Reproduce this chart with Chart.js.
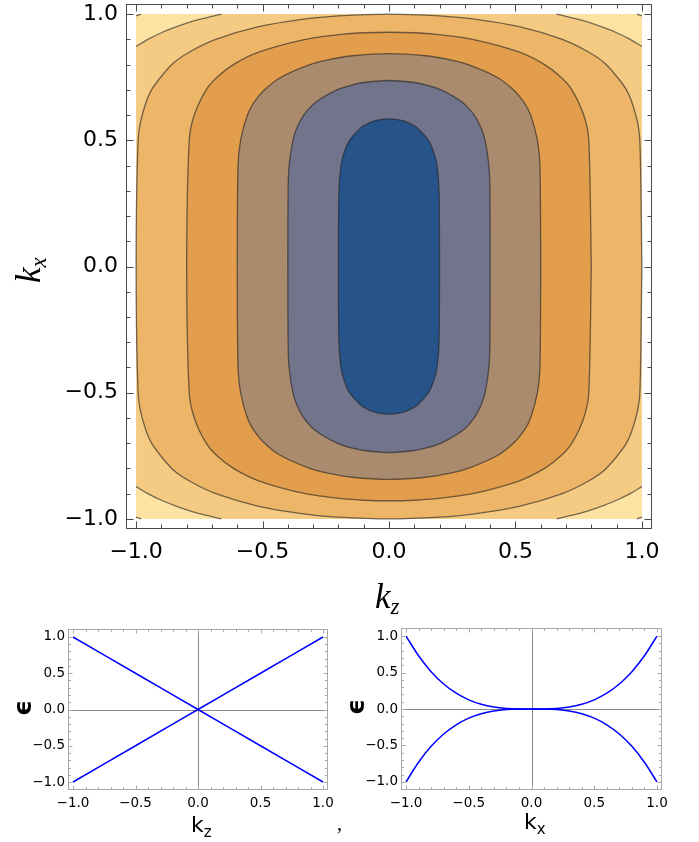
<!DOCTYPE html>
<html>
<head>
<meta charset="utf-8">
<script src="https://cdn.jsdelivr.net/npm/chart.js@4.4.0/dist/chart.umd.min.js"></script>
<style>
  html, body { margin: 0; padding: 0; background: #fff; }
  body { width: 699px; height: 842px; position: relative; overflow: hidden; }
  canvas { position: absolute; }
  #contour { left: 0; top: 0; }
  #bandZ { left: 0; top: 615px; }
  #bandX { left: 335px; top: 615px; }
  #comma { position: absolute; left: 337px; top: 813px; font: 20px "Liberation Serif", serif; line-height: 20px; }
</style>
</head>
<body>
<canvas id="contour" width="699" height="615"></canvas>
<canvas id="bandZ" width="335" height="227"></canvas>
<canvas id="bandX" width="364" height="227"></canvas>
<div id="comma">,</div>
<script>
// contour lines, first quadrant only, as [kz, kx] pairs (the plot is symmetric)
const contour02 = [[0.2, 0], [0.198, 0.3], [0.19, 0.4], [0.178, 0.45], [0.156, 0.5], [0.111, 0.55], [0.076, 0.57], [0.044, 0.58], [0, 0.585]];
const contour04 = [[0.4, 0], [0.399, 0.3], [0.395, 0.4], [0.38, 0.5], [0.364, 0.55], [0.337, 0.6], [0.291, 0.65], [0.206, 0.7], [0.144, 0.72], [0.093, 0.73], [0, 0.737]];
const contour06 = [[0.6, 0], [0.597, 0.4], [0.587, 0.5], [0.56, 0.6], [0.534, 0.65], [0.492, 0.7], [0.427, 0.75], [0.313, 0.8], [0.237, 0.82], [0.145, 0.835], [0, 0.843]];
const contour08 = [[0.8, 0], [0.79, 0.5], [0.77, 0.6], [0.723, 0.7], [0.68, 0.75], [0.615, 0.8], [0.513, 0.85], [0.33, 0.9], [0.183, 0.92], [0.1, 0.926], [0, 0.928]];
const contour10 = [[1, 0], [0.992, 0.5], [0.976, 0.6], [0.939, 0.7], [0.859, 0.8], [0.789, 0.85], [0.685, 0.9], [0.515, 0.95], [0.338, 0.98], [0.2, 0.993], [0, 1]];
// the two outer levels only show up in the corners
const corner12 = [[1, 0.872], [0.95, 0.902], [0.9, 0.926], [0.85, 0.946], [0.8, 0.964], [0.75, 0.979], [0.7, 0.991], [0.663, 1]];
const corner14 = [[1, 0.993], [0.98, 1]];

const tickVals = [-1, -0.5, 0, 0.5, 1];
const tickLabels = ['−1.0', '−0.5', '0.0', '0.5', '1.0'];
const minorTicks = [-0.9, -0.8, -0.7, -0.6, -0.4, -0.3, -0.2, -0.1, 0.1, 0.2, 0.3, 0.4, 0.6, 0.7, 0.8, 0.9];

// lower panels: the two bands along kz and along kx
const kzVals = [-1, -0.5, 0, 0.5, 1];
const epsZUp = [-1, -0.5, 0, 0.5, 1];
const epsZDown = [1, 0.5, 0, -0.5, -1];
const kxVals = [-1, -0.9, -0.8, -0.7, -0.6, -0.5, -0.4, -0.3, -0.2, -0.1, 0, 0.1, 0.2, 0.3, 0.4, 0.5, 0.6, 0.7, 0.8, 0.9, 1];
const epsXUp = [-1, -0.729, -0.512, -0.343, -0.216, -0.125, -0.064, -0.027, -0.008, -0.001, 0, 0.001, 0.008, 0.027, 0.064, 0.125, 0.216, 0.343, 0.512, 0.729, 1];
const epsXDown = [1, 0.729, 0.512, 0.343, 0.216, 0.125, 0.064, 0.027, 0.008, 0.001, 0, -0.001, -0.008, -0.027, -0.064, -0.125, -0.216, -0.343, -0.512, -0.729, -1];

const lineCol = 'rgba(35,35,35,0.62)';

Chart.defaults.font.family = '"DejaVu Sans", sans-serif';
Chart.defaults.color = '#000';

// mirror a first-quadrant list into a closed loop
function closedLoop(q) {
    const pts = [];
    q.forEach(([z, x]) => pts.push({ x: z, y: x }));
    q.slice(0, -1).reverse().forEach(([z, x]) => pts.push({ x: -z, y: x }));
    q.slice(1).forEach(([z, x]) => pts.push({ x: -z, y: -x }));
    q.slice(0, -1).reverse().forEach(([z, x]) => pts.push({ x: z, y: -x }));
    return pts;
}

const quadrants = [[1, 1], [-1, 1], [-1, -1], [1, -1]];

function cornerLine(q, sx, sy) {
    return q.map(([z, x]) => ({ x: sx * z, y: sy * x }));
}

function cornerPatch(q, sx, sy) {
    const pts = cornerLine(q, sx, sy);
    pts.push({ x: sx, y: sy });
    pts.push(pts[0]);
    return pts;
}

const sets = [];
sets.push({ data: [{ x: -1, y: -1 }, { x: 1, y: -1 }, { x: 1, y: 1 }, { x: -1, y: 1 }, { x: -1, y: -1 }],
            backgroundColor: '#f5ca82', borderWidth: 0, fill: 'shape' });
quadrants.forEach(([sx, sy]) => sets.push({ data: cornerPatch(corner12, sx, sy), backgroundColor: '#fde3a2', borderWidth: 0, fill: 'shape' }));

[[contour10, '#ecb567'], [contour08, '#e39e4d'], [contour06, '#aa8b6d'], [contour04, '#72748c'], [contour02, '#26538a']]
    .forEach(([q, col]) => sets.push({ data: closedLoop(q), backgroundColor: col, borderColor: lineCol, borderWidth: 1.3, fill: 'shape', tension: 0.25 }));

quadrants.forEach(([sx, sy]) => {
    sets.push({ data: cornerLine(corner12, sx, sy), borderColor: lineCol, borderWidth: 1.3, fill: false, tension: 0.25 });
    sets.push({ data: cornerLine(corner14, sx, sy), borderColor: lineCol, borderWidth: 1.3, fill: false });
});
sets.forEach((s, i) => { s.order = sets.length - i; s.showLine = true; s.pointRadius = 0; });

function frameTicks(opts) {
    return {
        id: 'frameTicks',
        afterDraw(chart) {
            const { ctx, chartArea: a, scales: { x, y } } = chart;
            ctx.save();
            ctx.strokeStyle = opts.color;
            ctx.lineWidth = 1;
            const L = Math.round(a.left) + 0.5, R = Math.round(a.right) - 0.5;
            const T = Math.round(a.top) + 0.5, B = Math.round(a.bottom) - 0.5;
            ctx.strokeRect(L, T, R - L, B - T);
            ctx.beginPath();
            const mark = (vals, len) => vals.forEach(v => {
                const px = Math.round(x.getPixelForValue(v)) + 0.5;
                const py = Math.round(y.getPixelForValue(v)) + 0.5;
                ctx.moveTo(px, B); ctx.lineTo(px, B - len);
                ctx.moveTo(px, T); ctx.lineTo(px, T + len);
                ctx.moveTo(L, py); ctx.lineTo(L + len, py);
                ctx.moveTo(R, py); ctx.lineTo(R - len, py);
            });
            mark(tickVals, opts.major);
            mark(minorTicks, opts.minor);
            ctx.stroke();
            ctx.restore();
        }
    };
}

function subText(ctx, x, y, main, sub, mainFont, subFont, dy) {
    ctx.font = mainFont;
    ctx.fillText(main, x, y);
    const w = ctx.measureText(main).width;
    ctx.font = subFont;
    ctx.fillText(sub, x + w, y + dy);
}

function axisOpts(min, max, size, pad, fit) {
    return {
        type: 'linear', min: min, max: max, bounds: 'data',
        grid: { display: false, drawTicks: false },
        border: { display: false },
        afterBuildTicks: s => { s.ticks = tickVals.map(v => ({ value: v })); },
        ticks: { callback: v => tickLabels[tickVals.indexOf(v)], font: { size: size }, padding: pad, maxRotation: 0, autoSkip: false },
        afterFit: fit
    };
}

new Chart(document.getElementById('contour'), {
    type: 'scatter',
    data: { datasets: sets },
    options: {
        responsive: false,
        animation: false,
        layout: { padding: { top: 4, right: 47, left: 0, bottom: 0 } },
        plugins: { legend: { display: false }, tooltip: { enabled: false } },
        scales: {
            x: axisOpts(-1.04, 1.04, 22, 10, s => { s.height = 86; s.paddingLeft = 0; s.paddingRight = 0; }),
            y: axisOpts(-1.04, 1.04, 22, 8, s => { s.width = 126; s.paddingTop = 0; s.paddingBottom = 0; })
        }
    },
    plugins: [frameTicks({ color: '#4a4a4a', major: 7, minor: 4 }), {
        id: 'titles',
        afterDraw(chart) {
            const ctx = chart.ctx;
            const serif = '"Liberation Serif", serif';
            ctx.save();
            ctx.fillStyle = '#000';
            subText(ctx, 375, 608, 'k', 'z', 'italic 35px ' + serif, 'italic 23px ' + serif, 6);
            ctx.translate(40, 283);
            ctx.rotate(-Math.PI / 2);
            subText(ctx, 0, 0, 'k', 'x', 'italic 35px ' + serif, 'italic 23px ' + serif, 6);
            ctx.restore();
        }
    }]
});

function createBand(id, xs, up, down, sub, area, epsPos, titlePos) {
    const canvas = document.getElementById(id);
    const toPts = ys => xs.map((v, i) => ({ x: v, y: ys[i] }));
    const line = ys => ({ data: toPts(ys), showLine: true, pointRadius: 0, borderColor: '#0000ff', borderWidth: 1.5,
                          cubicInterpolationMode: 'monotone', fill: false });
    return new Chart(canvas, {
        type: 'scatter',
        data: { datasets: [line(up), line(down)] },
        options: {
            responsive: false,
            animation: false,
            layout: { padding: { top: area.top, right: canvas.width - area.right, left: 0, bottom: 0 } },
            plugins: { legend: { display: false }, tooltip: { enabled: false } },
            scales: {
                x: axisOpts(-1.04, 1.04, 13.5, 5, s => { s.height = canvas.height - area.bottom; s.paddingLeft = 0; s.paddingRight = 0; }),
                y: axisOpts(-1.11, 1.11, 13.5, 3, s => { s.width = area.left; s.paddingTop = 0; s.paddingBottom = 0; })
            }
        },
        plugins: [{
            id: 'zeroAxes',
            beforeDatasetsDraw(chart) {
                const { ctx, chartArea: a, scales: { x, y } } = chart;
                const px = Math.round(x.getPixelForValue(0)) + 0.5;
                const py = Math.round(y.getPixelForValue(0)) + 0.5;
                ctx.save();
                ctx.strokeStyle = '#8a8a8a';
                ctx.lineWidth = 1;
                ctx.beginPath();
                ctx.moveTo(px, a.top); ctx.lineTo(px, a.bottom);
                ctx.moveTo(a.left, py); ctx.lineTo(a.right, py);
                ctx.stroke();
                ctx.restore();
            }
        }, frameTicks({ color: '#a8a8a8', major: 4, minor: 2.5 }), {
            id: 'titles',
            afterDraw(chart) {
                const ctx = chart.ctx;
                ctx.save();
                ctx.fillStyle = '#000';
                subText(ctx, titlePos[0], titlePos[1], 'k', sub, '22px "DejaVu Sans"', '15px "DejaVu Sans"', 5);
                ctx.translate(epsPos[0], epsPos[1]);
                ctx.rotate(-Math.PI / 2);
                ctx.textAlign = 'center';
                ctx.textBaseline = 'middle';
                ctx.font = 'bold 25px "DejaVu Sans"';
                ctx.fillText('ϵ', 0, 0);
                ctx.restore();
            }
        }]
    });
}

createBand('bandZ', kzVals, epsZUp, epsZDown, 'z', { left: 68, right: 328, top: 14, bottom: 175 }, [24, 93], [191, 217]);
createBand('bandX', kxVals, epsXUp, epsXDown, 'x', { left: 66, right: 327, top: 13, bottom: 175 }, [22, 92], [189, 214]);
</script>
</body>
</html>
